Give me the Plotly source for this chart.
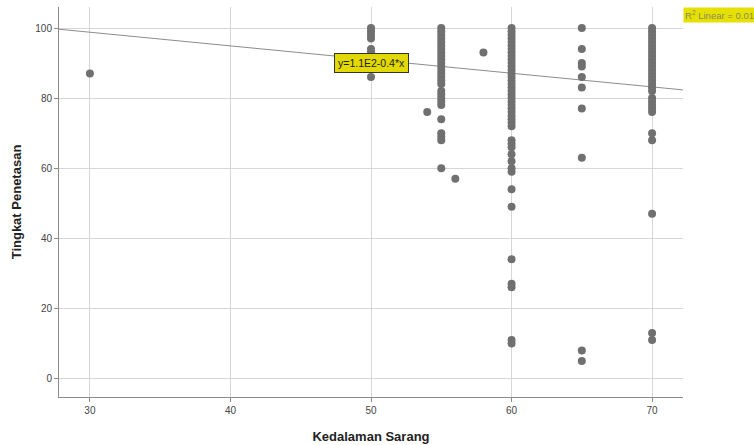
import plotly.graph_objects as go

# ---- data ----
x30 = [30]
y30 = [87]
x50 = [50] * 8
y50 = [100, 99, 98, 97, 94, 93, 90, 86]
x55 = [55] * 27
y55 = [100, 99, 98, 97, 96, 95, 94, 93, 92, 91, 90, 89, 88, 87, 86, 85, 84,
       82, 81, 80, 79, 78, 74, 70, 69, 68, 60]
x_mid = [54, 56, 58]
y_mid = [76, 57, 93]
y60 = list(range(100, 71, -1)) + [68, 67, 66, 64, 62, 60, 59, 54, 49, 34, 27, 26, 11, 10]
x60 = [60] * len(y60)
y65 = [100, 94, 90, 89, 86, 83, 77, 63, 8, 5]
x65 = [65] * len(y65)
y70 = list(range(100, 87, -1)) + [87, 86, 85, 84, 83, 82, 80, 79, 78, 77, 76, 70, 68, 47, 13, 11]
x70 = [70] * len(y70)

xs = x30 + x50 + x55 + x_mid + x60 + x65 + x70
ys = y30 + y50 + y55 + y_mid + y60 + y65 + y70

fit_intercept = 110.5
fit_slope = -0.39
x_range = [27.8, 72.2]
y_range = [-5.3, 106]
x_ticks = [30, 40, 50, 60, 70]
y_ticks = [0, 20, 40, 60, 80, 100]

fig = go.Figure()
fig.add_trace(go.Scatter(
    x=x_range, y=[fit_intercept + fit_slope * v for v in x_range],
    mode="lines", line=dict(color="#8c8c8c", width=1), hoverinfo="skip",
    showlegend=False, cliponaxis=True))
fig.add_trace(go.Scatter(
    x=xs, y=ys, mode="markers",
    marker=dict(size=8, color="#707070", line=dict(width=0)),
    showlegend=False))

axis_common = dict(showgrid=True, gridcolor="#d6d6d6", gridwidth=1,
                   showline=True, linecolor="#8a8a8a", linewidth=1,
                   ticks="outside", ticklen=4, tickcolor="#8a8a8a",
                   zeroline=False, automargin=False,
                   tickfont=dict(family="Liberation Sans, Arial", size=10, color="#444"))

fig.update_xaxes(range=x_range, tickvals=x_ticks, **axis_common,
                 title=dict(text="<b>Kedalaman Sarang</b>",
                            font=dict(family="Liberation Sans, Arial", size=13, color="#222"),
                            standoff=16))
fig.update_yaxes(range=y_range, tickvals=y_ticks, **axis_common,
                 title=dict(text="<b>Tingkat Penetasan</b>",
                            font=dict(family="Liberation Sans, Arial", size=13, color="#222"),
                            standoff=10))

fig.add_annotation(x=50, y=90, xref="x", yref="y", text="y=1.1E2-0.4*x",
                   showarrow=False, bgcolor="#e2d900", bordercolor="#333",
                   borderwidth=1, borderpad=3,
                   font=dict(family="Liberation Sans, Arial", size=10.5, color="#222"))
fig.add_annotation(x=1.0, y=1.0, xref="paper", yref="paper", xanchor="left",
                   yanchor="top", xshift=0, yshift=0,
                   text="R<sup>2</sup> Linear = 0.01", showarrow=False,
                   bgcolor="#e6e000", borderpad=1,
                   font=dict(family="Liberation Sans, Arial", size=9.5, color="#8a8a60"))

fig.update_layout(width=754, height=445, paper_bgcolor="white", plot_bgcolor="white",
                  margin=dict(l=59, r=71, t=7, b=48, autoexpand=False))
fig.write_html("out.html", config={"displayModeBar": False},
               post_script="document.body.style.margin='0';document.body.style.overflow='hidden';")
